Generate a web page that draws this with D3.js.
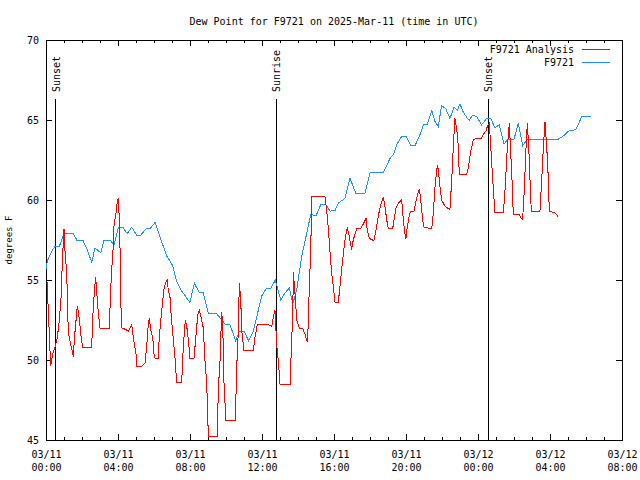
<!DOCTYPE html>
<html>
<head>
<meta charset="utf-8">
<script src="https://cdn.jsdelivr.net/npm/d3@7"></script>
<style>
  body { margin: 0; background: #fff; }
  text { font-family: "DejaVu Sans Mono", monospace; font-size: 10px; fill: #000; }
  .domain { display: none; }
</style>
</head>
<body>
<div id="chart"></div>
<script>
// hours after 2025-03-11 00:00 UTC
const obsHours = [0.0, 0.08, 0.32, 0.5, 0.74, 1.0, 1.52, 1.71, 2.04, 2.26, 2.54, 2.72, 3.04, 3.22, 3.56, 3.78,
    4.02, 4.26, 4.52, 4.76, 5.04, 5.26, 5.56, 5.78, 6.06, 6.33, 6.71, 7.04, 7.26, 7.54, 8.0, 8.24, 8.52, 8.74,
    9.02, 9.48, 9.76, 9.98, 10.22, 10.54, 10.74, 11.0, 11.26, 11.52, 11.71, 11.98, 12.26, 12.5, 12.74, 13.04,
    13.28, 13.52, 13.71, 13.93, 14.21, 14.48, 14.71, 15.0, 15.26, 15.56, 15.78, 16.06, 16.24, 16.61, 16.89,
    17.22, 17.72, 18.0, 18.74, 19.11, 19.33, 19.5, 19.78, 20.0, 20.28, 20.5, 20.75, 20.97, 21.17, 21.43, 21.61,
    21.79, 21.98, 22.21, 22.44, 22.67, 22.85, 23.0, 23.18, 23.41, 23.52, 23.71, 23.93, 24.2, 24.48, 24.71,
    24.94, 25.18, 25.44, 25.68, 26.0, 26.24, 26.48, 26.74, 28.46, 28.74, 29.02, 29.44, 29.76, 30.26];
const obsValues = [55.7, 56.2, 56.8, 57.1, 57.1, 57.9, 57.9, 57.5, 57.5, 57.0, 56.1, 57.0, 56.7, 57.5, 57.5, 57.2,
    58.3, 58.3, 57.9, 58.3, 57.8, 57.8, 58.2, 58.2, 58.6, 57.7, 56.5, 55.9, 54.9, 54.3, 53.6, 54.8, 54.2, 54.2,
    52.9, 52.9, 52.5, 52.2, 52.2, 51.2, 51.8, 51.8, 51.2, 51.8, 52.7, 54.0, 54.5, 54.5, 55.0, 53.75,
    54.2, 54.5, 53.5, 54.4, 56.5, 57.9, 59.1, 59.0, 59.7, 59.7, 59.3, 59.35, 59.8, 60.1, 61.35,
    60.4, 60.4, 61.7, 61.7, 62.6, 62.9, 63.5, 64.0, 64.0, 63.4, 63.4, 64.0, 64.7, 64.7, 65.6, 64.9,
    64.6, 65.9, 65.7, 65.1, 65.8, 65.6, 66.0, 65.5, 65.1, 65.0, 65.3, 65.2, 64.7, 65.1, 65.1,
    64.5, 64.7, 63.5, 63.8, 63.8, 64.8, 63.4, 63.8, 63.8, 64.0, 64.3, 64.4, 65.2, 65.2];

const anaHours = [0.06, 0.26, 0.37, 0.5, 0.63, 0.74, 0.83, 0.91, 1.0, 1.06, 1.15, 1.24, 1.37, 1.52, 1.57, 1.67,
    1.74, 1.85, 1.93, 2.04, 2.54, 2.59, 2.68, 2.76, 2.82, 2.91, 3.0, 3.52, 3.59, 3.67, 3.71, 3.78, 3.89, 3.96,
    4.02, 4.07, 4.11, 4.17, 4.22, 4.44, 4.57, 4.67, 4.76, 4.85, 5.0, 5.04, 5.32, 5.5, 5.59, 5.68, 5.74, 5.82,
    5.93, 6.0, 6.06, 6.24, 6.29, 6.43, 6.56, 6.67, 6.74, 6.79, 6.89, 6.94, 7.04, 7.17, 7.26, 7.54, 7.59, 7.67,
    7.74, 7.82, 7.91, 8.0, 8.22, 8.33, 8.43, 8.52, 8.61, 8.74, 8.83, 8.93, 9.02, 9.52, 9.57, 9.67, 9.76, 9.82,
    9.89, 10.0, 10.52, 10.59, 10.68, 10.74, 10.82, 10.87, 11.0, 11.52, 11.61, 11.74, 12.35, 12.54, 12.63,
    12.72, 12.82, 12.91, 13.0, 13.56, 13.65, 13.71, 13.74, 13.83, 13.93, 14.07, 14.26, 14.39, 14.52, 14.57,
    14.63, 14.71, 14.76, 15.5, 15.59, 15.68, 15.78, 15.87, 15.96, 16.06, 16.24, 16.33, 16.48, 16.61, 16.74,
    16.85, 16.98, 17.07, 17.26, 17.48, 17.63, 17.78, 17.85, 17.96, 18.22, 18.33, 18.46, 18.59, 18.74, 18.83,
    18.93, 19.02, 19.26, 19.33, 19.44, 19.57, 19.76, 19.85, 19.94, 20.0, 20.07, 20.18, 20.26, 20.44, 20.59,
    20.74, 20.82, 20.93, 21.0, 21.43, 21.52, 21.61, 21.74, 21.79, 21.89, 21.98, 22.17, 22.44, 22.54, 22.63,
    22.72, 22.82, 22.91, 22.96, 23.37, 23.46, 23.59, 23.74, 23.89, 24.2, 24.29, 24.44, 24.52, 24.63, 24.71,
    24.82, 24.94, 25.41, 25.5, 25.63, 25.74, 25.82, 25.89, 25.96, 26.29, 26.37, 26.48, 26.56, 26.67, 26.74,
    26.82, 26.89, 26.96, 27.44, 27.54, 27.63, 27.72, 27.82, 27.91, 27.96, 28.28, 28.37, 28.46];
const anaValues = [54.9, 49.6, 50.4, 50.8, 51.4, 52.5, 53.75, 56.2, 58.2, 56.7, 55.5, 51.7, 51.0, 50.2, 51.25, 52.5,
    53.4, 52.6, 51.6, 50.8, 50.8, 52.5, 54.2, 55.2, 54.2, 52.9, 52.0, 52.0, 54.4, 56.0, 56.5, 58.4, 59.2, 59.9,
    60.1, 58.85, 57.1, 53.1, 52.0, 51.9, 51.8, 52.0, 52.2, 51.4, 50.4, 49.6, 49.6, 49.8, 50.8, 52.2, 52.6, 51.9,
    51.4, 50.4, 50.1, 50.1, 51.4, 53.1, 54.5, 54.9, 55.0, 54.4, 53.9, 53.0, 51.7, 50.1, 48.6, 48.6, 50.0, 51.5,
    52.5, 52.1, 51.25, 50.1, 50.1, 51.5, 52.8, 53.1, 52.7, 52.0, 50.0, 48.5, 45.2, 45.2, 48.1, 50.0, 53.0, 52.1,
    48.5, 46.2, 46.2, 49.4, 51.7, 54.8, 53.75, 51.9, 50.6, 50.6, 51.4, 52.2, 52.2, 52.1, 52.7,
    53.1, 50.9, 49.9, 48.5, 48.5, 51.25, 52.9, 55.5, 54.2, 52.5, 52.0, 52.0, 51.6, 51.1, 52.3,
    54.6, 56.9, 60.2, 60.2, 59.4, 58.3, 56.7, 55.4, 54.6, 53.6, 53.6, 54.6, 56.25, 57.5, 58.3,
    57.7, 56.9, 57.5, 58.2, 58.2, 58.5, 58.85, 58.1, 57.6, 57.45, 58.1, 59.0, 59.7, 60.2, 59.6,
    58.75, 58.2, 58.2, 58.75, 59.5, 59.8, 60.0, 58.75, 57.9, 57.6, 58.3, 59.0, 59.3, 59.3, 60.1,
    60.7, 60.0, 58.75, 58.3, 58.2, 59.2, 60.8, 62.2, 61.9, 60.8, 60.0, 59.6, 59.4, 61.25, 63.4,
    65.1, 64.4, 63.3, 61.6, 61.6, 62.0, 63.0, 63.75, 63.85, 63.85, 64.1, 64.3, 64.6, 64.8, 63.3,
    61.25, 59.2, 59.2, 60.6, 63.3, 64.8, 62.9, 61.25, 59.1, 59.1, 58.9, 58.8, 60.4, 63.3, 64.8,
    63.3, 61.25, 59.3, 59.3, 61.25, 63.3, 64.9, 63.3, 61.25, 59.3, 59.2, 59.1, 58.9];

const sunNames = ["Sunset", "Sunrise", "Sunset"];
const sunHours = [0.55, 12.78, 24.57];
const yTicks = [45, 50, 55, 60, 65, 70];

const t0 = Date.UTC(2025, 2, 11, 0, 0);
const toDate = h => new Date(t0 + h * 3600000);

const margin = {top: 40, right: 18, bottom: 40, left: 46};
const width = 640 - margin.left - margin.right;
const height = 480 - margin.top - margin.bottom;

const svg = d3.select("#chart")
    .append("svg")
    .attr("width", 640)
    .attr("height", 480);

const g = svg.append("g")
    .attr("transform", `translate(${margin.left},${margin.top})`);

const x = d3.scaleUtc()
    .domain([toDate(0), toDate(32)])
    .range([0, width]);

const y = d3.scaleLinear()
    .domain([45, 70])
    .range([height, 0]);

// minor ticks every hour, all four sides
const minor = d3.utcHour.every(1);
g.append("g").attr("transform", `translate(0,${height})`)
    .call(d3.axisBottom(x).ticks(minor).tickSize(-3).tickFormat(""));
g.append("g")
    .call(d3.axisTop(x).ticks(minor).tickSize(-3).tickFormat(""));

// major ticks every 4 hours
const major = d3.utcHour.every(4);
const xAxis = g.append("g").attr("transform", `translate(0,${height})`)
    .call(d3.axisBottom(x).ticks(major).tickSize(-6));
xAxis.selectAll(".tick text").each(function(d) {
    const t = d3.select(this).text(null).attr("y", 0).attr("dy", null);
    t.append("tspan").attr("x", 0).attr("y", 18).text(d3.utcFormat("%m/%d")(d));
    t.append("tspan").attr("x", 0).attr("y", 31).text(d3.utcFormat("%H:%M")(d));
});
g.append("g")
    .call(d3.axisTop(x).ticks(major).tickSize(-6).tickFormat(""));

g.append("g")
    .call(d3.axisLeft(y).tickValues(yTicks).tickSize(-6).tickPadding(7).tickFormat(d3.format("d")));
g.append("g").attr("transform", `translate(${width},0)`)
    .call(d3.axisRight(y).tickValues(yTicks).tickSize(-6).tickFormat(""));

g.selectAll(".tick line").attr("stroke", "#000").attr("shape-rendering", "crispEdges");

g.append("rect")
    .attr("width", width)
    .attr("height", height)
    .attr("fill", "none")
    .attr("stroke", "#000")
    .attr("shape-rendering", "crispEdges");

// sunrise / sunset markers
sunHours.forEach((h, i) => {
    const sx = x(toDate(h));
    g.append("line")
        .attr("x1", sx).attr("x2", sx)
        .attr("y1", 59).attr("y2", height)
        .attr("stroke", "#000")
        .attr("shape-rendering", "crispEdges");
    g.append("text")
        .attr("transform", `translate(${sx + 4},52) rotate(-90)`)
        .text(sunNames[i]);
});

const line = d3.line()
    .x(d => x(toDate(d[0])))
    .y(d => y(d[1]));

g.append("path")
    .datum(obsHours.map((h, i) => [h, obsValues[i]]))
    .attr("fill", "none")
    .attr("stroke", "#1e90ff")
    .attr("stroke-width", 1)
    .attr("shape-rendering", "crispEdges")
    .attr("d", line);

g.append("path")
    .datum(anaHours.map((h, i) => [h, anaValues[i]]))
    .attr("fill", "none")
    .attr("stroke", "#ff0000")
    .attr("stroke-width", 1)
    .attr("shape-rendering", "crispEdges")
    .attr("d", line);

// title and axis label
svg.append("text")
    .attr("x", margin.left + width / 2)
    .attr("y", 25)
    .attr("text-anchor", "middle")
    .text("Dew Point for F9721 on 2025-Mar-11 (time in UTC)");

svg.append("text")
    .attr("transform", `translate(12,${margin.top + height / 2}) rotate(-90)`)
    .attr("text-anchor", "middle")
    .style("font-size", "9px")
    .text("degrees F");

// legend
const legend = [["F9721 Analysis", "#ff0000"], ["F9721", "#1e90ff"]];
legend.forEach((l, i) => {
    svg.append("text")
        .attr("x", 574)
        .attr("y", 53 + i * 13)
        .attr("text-anchor", "end")
        .text(l[0]);
    svg.append("line")
        .attr("x1", 582).attr("x2", 610)
        .attr("y1", 49.5 + i * 13).attr("y2", 49.5 + i * 13)
        .attr("stroke", l[1])
        .attr("shape-rendering", "crispEdges");
});
</script>
</body>
</html>
